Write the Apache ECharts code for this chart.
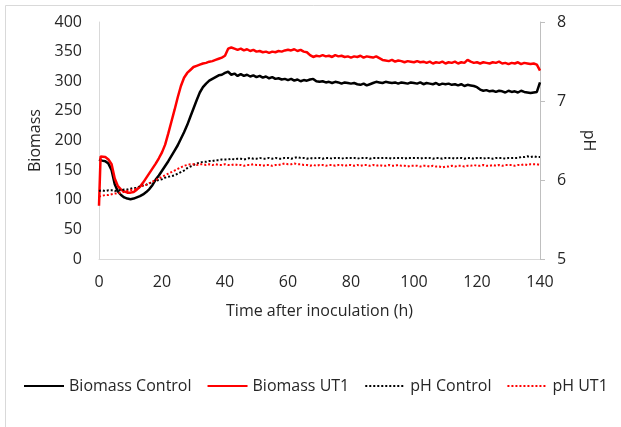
<!DOCTYPE html>
<html>
<head>
<meta charset="utf-8">
<script src="https://cdn.jsdelivr.net/npm/echarts@6/dist/echarts.min.js"></script>
<style>
html,body{margin:0;padding:0;background:#fff;}
#chart{width:621px;height:427px;}
</style>
</head>
<body>
<div id="chart"></div>
<script>
var timeH = [0,0.5,
1,2,3,4,5,6,7,8,9,10,
11,12,13,14,15,16,17,18,19,20,
21,22,23,24,25,26,27,28,29,30,
31,32,33,34,35,36,37,38,39,40,
41,42,43,44,45,46,47,48,49,50,
51,52,53,54,55,56,57,58,59,60,
61,62,63,64,65,66,67,68,69,70,
71,72,73,74,75,76,77,78,79,80,
81,82,83,84,85,86,87,88,89,90,
91,92,93,94,95,96,97,98,99,100,
101,102,103,104,105,106,107,108,109,110,
111,112,113,114,115,116,117,118,119,120,
121,122,123,124,125,126,127,128,129,130,
131,132,133,134,135,136,137,138,139,140];

var biomassControl = [168,171,
166,165,161,150,126,114,108,104,102,101,
102,104,106,109,113,118,125,134,141,149,
157,165,174,183,192,203,214,226,240,254,
268,281,290,296,301,304,307,310,311,314,
316,311,313,309,312,309,311,308,310,307,
309,306,308,305,307,304,305,303,304,302,
304,301,303,300,302,301,303,304,300,299,
300,298,299,297,299,298,296,298,297,296,
297,295,294,296,293,295,297,299,298,297,
299,298,297,298,296,298,297,296,298,297,
296,298,295,297,296,295,297,294,296,295,
296,294,295,293,295,292,294,293,292,290,
286,284,285,283,284,282,284,283,281,284,
282,283,281,284,282,281,280,281,282,298];

var biomassUT1 = [90,173,
176,172,168,160,136,123,117,114,112,112,
113,117,122,129,137,145,153,161,170,180,
193,212,232,252,273,292,306,314,319,324,
326,328,330,331,333,334,336,338,340,343,
355,357,355,353,355,352,354,351,353,350,
351,349,350,348,350,349,351,350,352,353,
352,354,351,353,350,349,344,341,343,342,
344,342,343,341,344,342,343,341,342,340,
342,341,343,340,342,341,340,342,339,336,
335,334,336,333,335,334,332,334,333,332,
334,332,333,331,333,330,332,331,333,330,
332,331,333,330,332,331,336,333,331,332,
330,332,331,330,332,331,333,330,331,329,
331,330,332,329,331,330,329,330,328,318];

var phControl = [5.86,5.86,
5.87,5.86,5.87,5.87,5.86,5.87,5.87,5.88,5.88,5.89,
5.90,5.90,5.92,5.93,5.94,5.96,5.97,5.99,6.00,6.01,
6.03,6.04,6.05,6.06,6.08,6.10,6.12,6.15,6.17,6.19,
6.21,6.22,6.23,6.23,6.24,6.24,6.25,6.25,6.26,6.26,
6.26,6.27,6.26,6.27,6.27,6.26,6.27,6.28,6.27,6.27,
6.28,6.27,6.27,6.28,6.27,6.28,6.27,6.27,6.28,6.28,
6.27,6.28,6.29,6.28,6.28,6.27,6.28,6.27,6.28,6.28,
6.27,6.28,6.28,6.27,6.28,6.28,6.27,6.28,6.28,6.28,
6.28,6.27,6.28,6.28,6.28,6.27,6.28,6.28,6.28,6.28,
6.28,6.28,6.27,6.28,6.28,6.28,6.27,6.28,6.28,6.28,
6.28,6.27,6.28,6.28,6.28,6.27,6.28,6.28,6.27,6.28,
6.28,6.28,6.27,6.28,6.28,6.27,6.28,6.28,6.27,6.28,
6.28,6.27,6.28,6.28,6.27,6.28,6.28,6.28,6.27,6.28,
6.28,6.28,6.28,6.29,6.29,6.30,6.29,6.30,6.29,6.29];

var phUT1 = [5.79,5.80,
5.80,5.81,5.81,5.82,5.83,5.83,5.84,5.85,5.86,5.87,
5.88,5.89,5.91,5.93,5.94,5.96,5.98,6.00,6.02,6.04,
6.06,6.08,6.10,6.12,6.14,6.16,6.18,6.19,6.20,6.20,
6.19,6.20,6.20,6.19,6.20,6.19,6.20,6.19,6.19,6.20,
6.19,6.19,6.20,6.19,6.19,6.18,6.19,6.19,6.20,6.19,
6.19,6.18,6.19,6.19,6.18,6.19,6.19,6.20,6.21,6.20,
6.20,6.21,6.20,6.20,6.19,6.19,6.18,6.19,6.18,6.19,
6.19,6.18,6.19,6.19,6.18,6.19,6.19,6.18,6.19,6.19,
6.18,6.19,6.18,6.19,6.19,6.18,6.19,6.18,6.19,6.18,
6.18,6.19,6.18,6.18,6.19,6.18,6.18,6.17,6.18,6.18,
6.18,6.17,6.18,6.18,6.17,6.18,6.17,6.17,6.16,6.17,
6.17,6.18,6.17,6.18,6.18,6.17,6.18,6.18,6.19,6.18,
6.18,6.19,6.18,6.18,6.19,6.18,6.19,6.18,6.19,6.19,
6.19,6.18,6.19,6.19,6.20,6.19,6.20,6.20,6.20,6.19];

var seriesNames = ['Biomass Control','Biomass UT1','pH Control','pH UT1'];
var xTitle = 'Time after inoculation (h)';
var leftTitle = 'Biomass';
var rightTitle = 'pH';

function pairs(vals){ return timeH.map(function(t,i){ return [t, vals[i]]; }); }

var FONT = 'Open Sans';
var TXT = '#262626';

var chart = echarts.init(document.getElementById('chart'), null, {renderer:'canvas'});
chart.setOption({
  animation:false,
  backgroundColor:'#ffffff',
  textStyle:{fontFamily:FONT},
  graphic:[{type:'rect', shape:{x:5.5,y:5.5,width:700,height:700}, style:{fill:'none',stroke:'#d9d9d9',lineWidth:1}, silent:true}],
  grid:{left:99,right:81,top:22,bottom:168},
  legend:{
    left:23, top:378, itemWidth:40, itemHeight:14, itemGap:15, padding:0,
    itemStyle:{opacity:0},
    textStyle:{fontFamily:FONT,fontSize:16,color:TXT},
    data:seriesNames
  },
  xAxis:{
    type:'value', min:0, max:140, interval:20,
    axisLine:{show:true,lineStyle:{color:'#d9d9d9',width:1}},
    axisTick:{show:false}, splitLine:{show:false},
    axisLabel:{fontFamily:FONT,fontSize:16,color:TXT,margin:15},
    name:xTitle, nameLocation:'middle', nameGap:44,
    nameTextStyle:{fontFamily:FONT,fontSize:16,color:TXT}
  },
  yAxis:[{
    type:'value', min:0, max:400, interval:50, position:'left',
    axisLine:{show:true,lineStyle:{color:'#d9d9d9',width:1}},
    axisTick:{show:false}, splitLine:{show:false},
    axisLabel:{fontFamily:FONT,fontSize:16,color:TXT,margin:17},
    name:leftTitle, nameLocation:'middle', nameGap:49, nameRotate:90,
    nameTextStyle:{fontFamily:FONT,fontSize:16,color:TXT}
  },{
    type:'value', min:5, max:8, interval:1, position:'right',
    axisLine:{show:true,lineStyle:{color:'#bfbfbf',width:1}},
    axisTick:{show:true,inside:false,length:5,lineStyle:{color:'#bfbfbf'}}, splitLine:{show:false},
    axisLabel:{fontFamily:FONT,fontSize:16,color:TXT,margin:17},
    name:rightTitle, nameLocation:'middle', nameGap:41, nameRotate:-90,
    nameTextStyle:{fontFamily:FONT,fontSize:16,color:TXT}
  }],
  series:[
    {name:seriesNames[0], type:'line', yAxisIndex:0, data:pairs(biomassControl), showSymbol:false, symbol:'none',
     lineStyle:{color:'#000000',width:2.5}, itemStyle:{color:'#000000'}},
    {name:seriesNames[1], type:'line', yAxisIndex:0, data:pairs(biomassUT1), showSymbol:false, symbol:'none',
     lineStyle:{color:'#ff0000',width:2.5}, itemStyle:{color:'#ff0000'}},
    {name:seriesNames[2], type:'line', yAxisIndex:1, data:pairs(phControl), showSymbol:false, symbol:'none',
     lineStyle:{color:'#000000',width:2,type:[2,2]}, itemStyle:{color:'#000000'}},
    {name:seriesNames[3], type:'line', yAxisIndex:1, data:pairs(phUT1), showSymbol:false, symbol:'none',
     lineStyle:{color:'#ff0000',width:2,type:[2,2]}, itemStyle:{color:'#ff0000'}}
  ]
});
</script>
</body>
</html>
